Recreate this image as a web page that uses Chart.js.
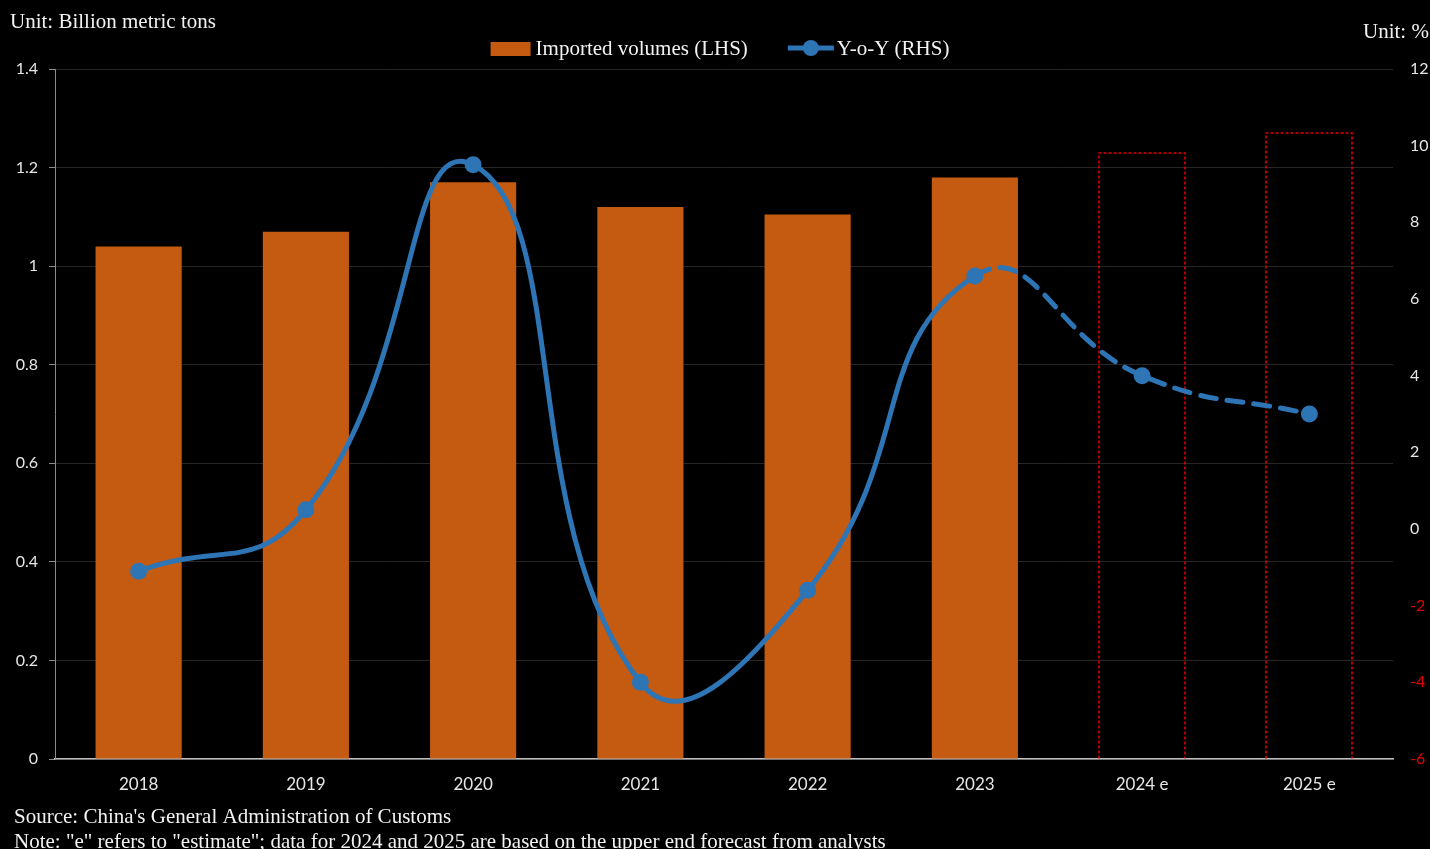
<!DOCTYPE html>
<html>
<head>
<meta charset="utf-8">
<script src="https://cdn.jsdelivr.net/npm/chart.js"></script>
<style>
  html, body { margin: 0; padding: 0; background: #000; }
  #wrap { position: relative; width: 1430px; height: 849px; }
</style>
</head>
<body>
<div id="wrap">
  <canvas id="myChart" width="1430" height="849"></canvas>
</div>
<script>
// data block
const categories = ['2018', '2019', '2020', '2021', '2022', '2023', '2024 e', '2025 e'];
const importedVolumes = [1.04, 1.07, 1.17, 1.12, 1.105, 1.18, 1.23, 1.27];
const yoyChange = [-1.1, 0.5, 9.5, -4.0, -1.6, 6.6, 4.0, 3.0];
const leftTicks = { min: 0, max: 1.4, step: 0.2 };
const rightTicks = { min: -6, max: 12, step: 2 };

const isEstimate = categories.map(c => c.endsWith(' e'));
const lastActual = isEstimate.indexOf(true) - 1;

const ORANGE = '#C55A11';
const BLUE = '#2E75B6';
const RED = '#E00000';
const SERIF = '"Liberation Serif", "Times New Roman", serif';
const SANS = 'Lato, "Liberation Sans", sans-serif';

// dashed outline for estimate bars, drawn under the line
const estimateOutline = {
  id: 'estimateOutline',
  afterDatasetDraw(chart, args) {
    if (args.index !== 0) return;
    const ctx = chart.ctx;
    const meta = chart.getDatasetMeta(0);
    ctx.save();
    ctx.strokeStyle = RED;
    ctx.lineWidth = 1.6;
    ctx.setLineDash([3, 2]);
    meta.data.forEach((el, i) => {
      if (!isEstimate[i]) return;
      const { x, y, base, width } = el.getProps(['x', 'y', 'base', 'width'], true);
      const l = Math.round(x - width / 2), r = Math.round(x + width / 2);
      const t = Math.round(y);
      ctx.beginPath();
      ctx.moveTo(l, base);
      ctx.lineTo(l, t);
      ctx.lineTo(r, t);
      ctx.lineTo(r, base);
      ctx.stroke();
    });
    ctx.restore();
  }
};

// titles, units, legend and notes
const textLayer = {
  id: 'textLayer',
  afterDraw(chart) {
    const ctx = chart.ctx;
    ctx.save();
    ctx.fillStyle = '#f2f2f2';
    ctx.font = '21px ' + SERIF;
    ctx.textBaseline = 'alphabetic';
    ctx.textAlign = 'left';
    ctx.fillText('Unit: Billion metric tons', 10, 28);
    ctx.fillText('Unit: %', 1363, 38);
    ctx.fillText("Source: China's General Administration of Customs", 14, 823);
    ctx.fillText('Note: "e" refers to "estimate"; data for 2024 and 2025 are based on the upper end forecast from analysts', 14, 848);

    // legend
    const label1 = chart.data.datasets[0].label;
    const label2 = chart.data.datasets[1].label;
    const w1 = ctx.measureText(label1).width;
    const w2 = ctx.measureText(label2).width;
    const total = 40 + 5 + w1 + 40 + 46 + 3 + w2;
    let x = 720 - total / 2;
    const y = 49;
    ctx.fillStyle = ORANGE;
    ctx.fillRect(x, y - 7, 40, 14);
    x += 45;
    ctx.fillStyle = '#f2f2f2';
    ctx.textBaseline = 'middle';
    ctx.fillText(label1, x, y);
    x += w1 + 40;
    ctx.strokeStyle = BLUE;
    ctx.lineWidth = 5;
    ctx.beginPath();
    ctx.moveTo(x, y - 1);
    ctx.lineTo(x + 46, y - 1);
    ctx.stroke();
    ctx.fillStyle = BLUE;
    ctx.beginPath();
    ctx.arc(x + 23, y - 1, 8, 0, Math.PI * 2);
    ctx.fill();
    x += 49;
    ctx.fillStyle = '#f2f2f2';
    ctx.fillText(label2, x, y);
    ctx.restore();
  }
};

const data = {
  labels: categories,
  datasets: [
    {
      type: 'bar',
      label: 'Imported volumes (LHS)',
      data: importedVolumes,
      yAxisID: 'y',
      backgroundColor: isEstimate.map(e => e ? 'rgba(0,0,0,0)' : ORANGE),
      borderWidth: 0,
      categoryPercentage: 1,
      barPercentage: 0.515,
      order: 1
    },
    {
      type: 'line',
      label: 'Y-o-Y (RHS)',
      data: yoyChange,
      yAxisID: 'y1',
      borderColor: BLUE,
      backgroundColor: BLUE,
      borderWidth: 5,
      tension: 0.5,
      borderCapStyle: 'round',
      pointRadius: 8.5,
      pointHoverRadius: 8.5,
      pointBorderWidth: 0,
      pointBackgroundColor: BLUE,
      segment: {
        borderDash: c => c.p0DataIndex >= lastActual ? [16, 11] : undefined
      },
      order: 0
    }
  ]
};

const config = {
  data,
  plugins: [estimateOutline, textLayer],
  options: {
    responsive: false,
    animation: false,
    layout: { padding: { top: 69, bottom: 0, left: 0, right: 0 } },
    plugins: {
      legend: { display: false },
      tooltip: { enabled: false }
    },
    scales: {
      x: {
        grid: { display: false, drawTicks: false },
        border: { color: '#bfbfbf', width: 1.5 },
        ticks: { color: '#e6e6e6', font: { family: SANS, size: 17 }, padding: 15 },
        afterFit(scale) { scale.height = 90; }
      },
      y: {
        position: 'left',
        min: leftTicks.min,
        max: leftTicks.max,
        ticks: {
          stepSize: leftTicks.step,
          color: '#e6e6e6',
          font: { family: SANS, size: 16 },
          padding: 11,
          callback: v => String(Number(v.toFixed(1)))
        },
        grid: { color: '#262626', tickColor: '#8c8c8c', tickLength: 6 },
        border: { color: '#8c8c8c', width: 1 },
        afterFit(scale) { scale.width = 55; }
      },
      y1: {
        position: 'right',
        min: rightTicks.min,
        max: rightTicks.max,
        ticks: {
          stepSize: rightTicks.step,
          color: c => c.tick.value < 0 ? RED : '#e6e6e6',
          font: { family: SANS, size: 16 },
          padding: 17
        },
        grid: { display: false, drawTicks: false },
        border: { display: false },
        afterFit(scale) { scale.width = 37; }
      }
    }
  }
};

const myChart = new Chart(document.getElementById('myChart'), config);
</script>
</body>
</html>
